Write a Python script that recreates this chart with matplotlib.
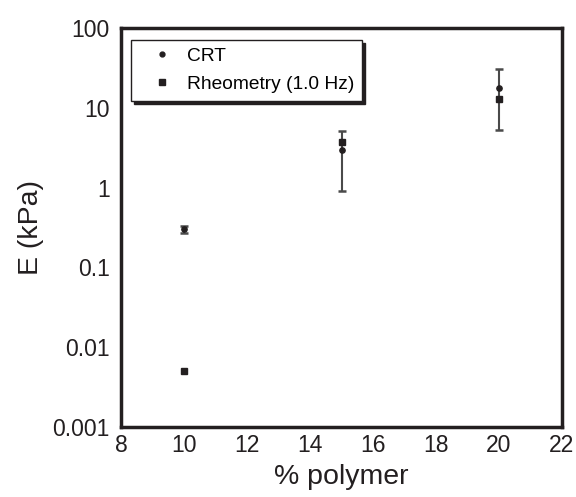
import matplotlib
matplotlib.use("Agg")
import matplotlib.pyplot as plt
from matplotlib.lines import Line2D
from matplotlib.ticker import FixedLocator, FixedFormatter, NullLocator

plt.rcParams['font.family'] = ['Liberation Sans', 'DejaVu Sans']

polymer = [10, 15, 20]
crt_E = [0.30, 3.0, 17.8]
crt_err = [0.03, 2.1, 12.6]
rheo_E = [0.005, 3.7, 12.9]

yticks = [0.001, 0.01, 0.1, 1, 10, 100]
ytick_labels = ['0.001', '0.01', '0.1', '1', '10', '100']
xticks = [8, 10, 12, 14, 16, 18, 20, 22]

dark = '#231f20'

fig = plt.figure(figsize=(5.76, 4.97), dpi=100)
ax = fig.add_axes([121/576, 1 - 427/497, (562-121)/576, (427-28)/497])

ax.errorbar(polymer, crt_E, yerr=crt_err, fmt='o', color=dark, ecolor='#4a4a4a',
            markersize=3.8, capsize=2.8, capthick=1.8, elinewidth=1.5, zorder=3)
ax.plot(polymer, rheo_E, 's', color=dark, markersize=4.6, zorder=4)

ax.set_yscale('log')
ax.set_ylim(0.001, 100)
ax.set_xlim(8, 22)
ax.yaxis.set_major_locator(FixedLocator(yticks))
ax.yaxis.set_major_formatter(FixedFormatter(ytick_labels))
ax.yaxis.set_minor_locator(NullLocator())
ax.set_xticks(xticks)
ax.tick_params(axis='both', length=0, labelsize=16.5, colors=dark)
ax.tick_params(axis='y', pad=8)
ax.tick_params(axis='x', pad=5)

for s in ax.spines.values():
    s.set_linewidth(2.5)
    s.set_color(dark)

ax.set_xlabel('% polymer', fontsize=20.5, color=dark, labelpad=5)
ax.set_ylabel('E (kPa)', fontsize=20.5, color=dark, labelpad=6)

handles = [Line2D([], [], linestyle='none', marker='o', markersize=3.5, color=dark),
           Line2D([], [], linestyle='none', marker='s', markersize=4.5, color=dark)]
labels = ['CRT', 'Rheometry (1.0 Hz)']
leg = ax.legend(handles, labels, loc='upper left', bbox_to_anchor=(0.023, 0.97),
                borderaxespad=0, fontsize=13.8, frameon=True, fancybox=False,
                shadow={'color': dark, 'alpha': 1.0}, handletextpad=0.1,
                borderpad=0.4, labelspacing=0.56, handlelength=2.4)
leg.get_frame().set_edgecolor(dark)
leg.get_frame().set_linewidth(1.0)

fig.savefig('out.png', dpi=100)
